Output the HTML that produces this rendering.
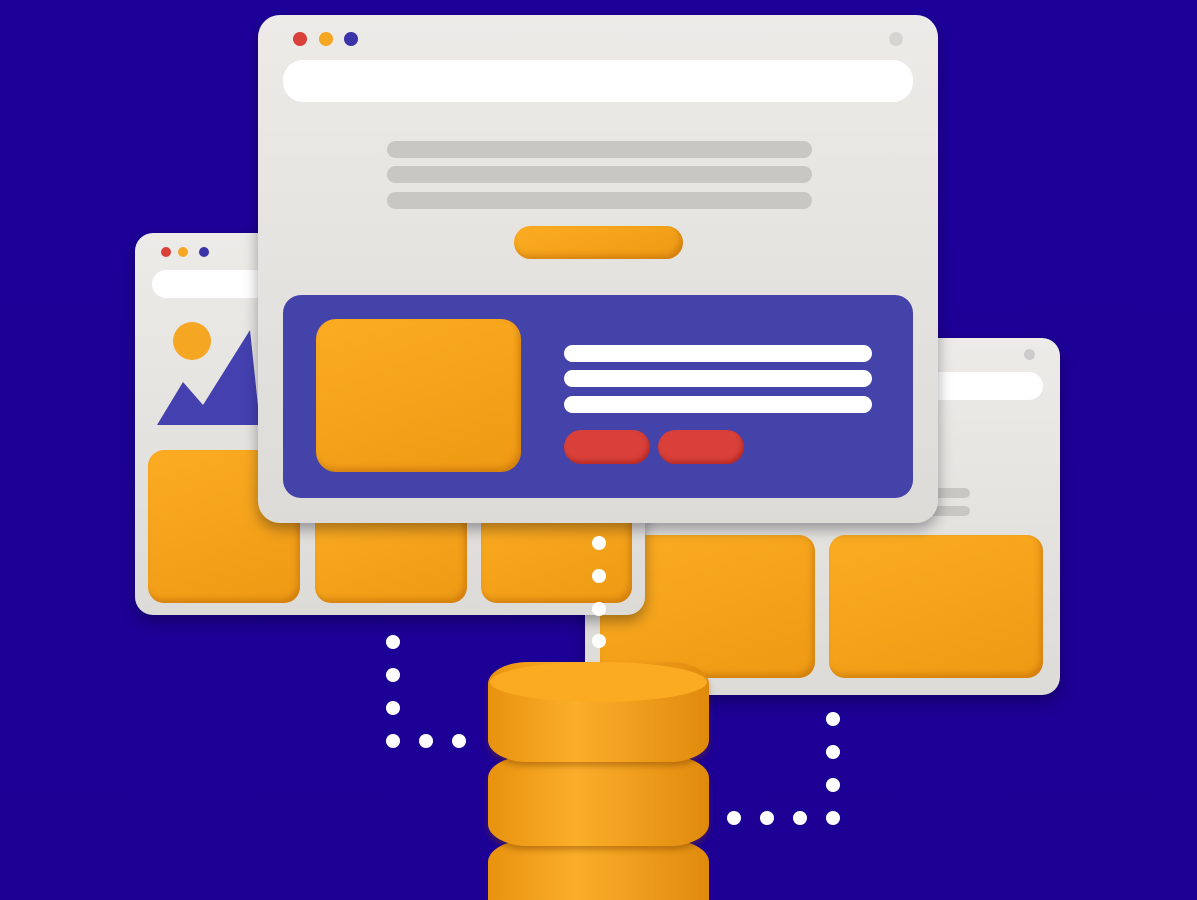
<!DOCTYPE html>
<html style="overflow:hidden;width:1197px;height:900px"><head><style>
body{margin:0;width:1197px;height:900px;overflow:hidden;background:linear-gradient(180deg,#1e0099 0%,#1d0094 100%);position:relative;font-family:"Liberation Sans",sans-serif}
div{position:absolute;box-sizing:border-box}
.win{background:linear-gradient(180deg,#edebe8,#dddbd7);border-radius:18px;box-shadow:0 6px 14px rgba(0,0,20,.35)}
.bar{background:#fff;border-radius:20px}
.gl{background:#c9c7c3;border-radius:9px}
.or{background:linear-gradient(160deg,#fbac22,#ee9a14);border-radius:16px;box-shadow:inset -3px -4px 6px rgba(160,80,0,.35)}
.wl{background:#fff;border-radius:9px}
.rd{background:#d9403a;border-radius:17px;box-shadow:inset -2px -3px 4px rgba(120,0,0,.35)}
.dot{width:14px;height:14px;border-radius:50%;background:#fff}
.c{border-radius:50%}
</style></head><body>
<!-- back right window -->
<div class="win" style="left:585px;top:338px;width:475px;height:357px"></div>
<div class="c" style="left:1024px;top:349px;width:11px;height:11px;background:#ccc"></div>
<div class="bar" style="left:900px;top:372px;width:143px;height:28px"></div>
<div class="gl" style="left:930px;top:488px;width:40px;height:10px"></div>
<div class="gl" style="left:930px;top:506px;width:40px;height:10px"></div>
<div class="or" style="left:600px;top:535px;width:215px;height:143px"></div>
<div class="or" style="left:829px;top:535px;width:214px;height:143px"></div>
<!-- left window -->
<div class="win" style="left:135px;top:233px;width:510px;height:382px"></div>
<div class="c" style="left:161px;top:247px;width:10px;height:10px;background:#d9403a"></div>
<div class="c" style="left:178px;top:247px;width:10px;height:10px;background:#f5a623"></div>
<div class="c" style="left:199px;top:247px;width:10px;height:10px;background:#3b34a8"></div>
<div class="bar" style="left:152px;top:270px;width:150px;height:28px"></div>
<div class="c" style="left:173px;top:322px;width:38px;height:38px;background:#f5a623"></div>
<svg style="position:absolute;left:155px;top:330px" width="110" height="100"><polygon points="2,95 28,52 48,75 95,0 105,95" fill="#4440b0"/></svg>
<div class="or" style="left:148px;top:450px;width:152px;height:153px"></div>
<div class="or" style="left:315px;top:500px;width:152px;height:103px"></div>
<div class="or" style="left:481px;top:500px;width:151px;height:103px"></div>
<!-- front window -->
<div class="win" style="left:258px;top:15px;width:680px;height:508px;border-radius:22px"></div>
<div class="c" style="left:293px;top:32px;width:14px;height:14px;background:#d9403a"></div>
<div class="c" style="left:319px;top:32px;width:14px;height:14px;background:#f5a623"></div>
<div class="c" style="left:344px;top:32px;width:14px;height:14px;background:#3b34a8"></div>
<div class="c" style="left:889px;top:32px;width:14px;height:14px;background:#d6d4d0"></div>
<div class="bar" style="left:283px;top:60px;width:630px;height:42px"></div>
<div class="gl" style="left:387px;top:141px;width:425px;height:17px"></div>
<div class="gl" style="left:387px;top:166px;width:425px;height:17px"></div>
<div class="gl" style="left:387px;top:192px;width:425px;height:17px"></div>
<div class="or" style="left:514px;top:226px;width:169px;height:33px;border-radius:17px"></div>
<div style="left:283px;top:295px;width:630px;height:203px;background:#4443aa;border-radius:18px"></div>
<div class="or" style="left:316px;top:319px;width:205px;height:153px;border-radius:20px"></div>
<div class="wl" style="left:564px;top:345px;width:308px;height:17px"></div>
<div class="wl" style="left:564px;top:370px;width:308px;height:17px"></div>
<div class="wl" style="left:564px;top:396px;width:308px;height:17px"></div>
<div class="rd" style="left:564px;top:430px;width:86px;height:34px"></div>
<div class="rd" style="left:658px;top:430px;width:86px;height:34px"></div>
<!-- dots -->
<div class="dot" style="left:592px;top:536px"></div><div class="dot" style="left:592px;top:569px"></div><div class="dot" style="left:592px;top:602px"></div><div class="dot" style="left:592px;top:634px"></div>
<div class="dot" style="left:386px;top:635px"></div><div class="dot" style="left:386px;top:668px"></div><div class="dot" style="left:386px;top:701px"></div><div class="dot" style="left:386px;top:734px"></div><div class="dot" style="left:419px;top:734px"></div><div class="dot" style="left:452px;top:734px"></div>
<div class="dot" style="left:826px;top:712px"></div><div class="dot" style="left:826px;top:745px"></div><div class="dot" style="left:826px;top:778px"></div><div class="dot" style="left:826px;top:811px"></div><div class="dot" style="left:727px;top:811px"></div><div class="dot" style="left:760px;top:811px"></div><div class="dot" style="left:793px;top:811px"></div>
<!-- database -->
<div style="left:488px;top:840px;width:221px;height:60px;border-radius:40px 40px 0 0/22px 22px 0 0;background:linear-gradient(90deg,#e8920f,#fbae2a 40%,#e08a0c)"></div>
<div style="left:488px;top:756px;width:221px;height:90px;border-radius:40px/22px;background:linear-gradient(90deg,#e8920f,#fbae2a 40%,#e08a0c);box-shadow:0 4px 6px rgba(120,60,0,.4)"></div>
<div style="left:488px;top:662px;width:221px;height:100px;border-radius:40px/22px;background:linear-gradient(90deg,#e8920f,#fbae2a 40%,#e08a0c);box-shadow:0 4px 6px rgba(120,60,0,.4)"></div>
<div class="c" style="left:490px;top:662px;width:217px;height:40px;background:#fbab22"></div>
</body></html>
